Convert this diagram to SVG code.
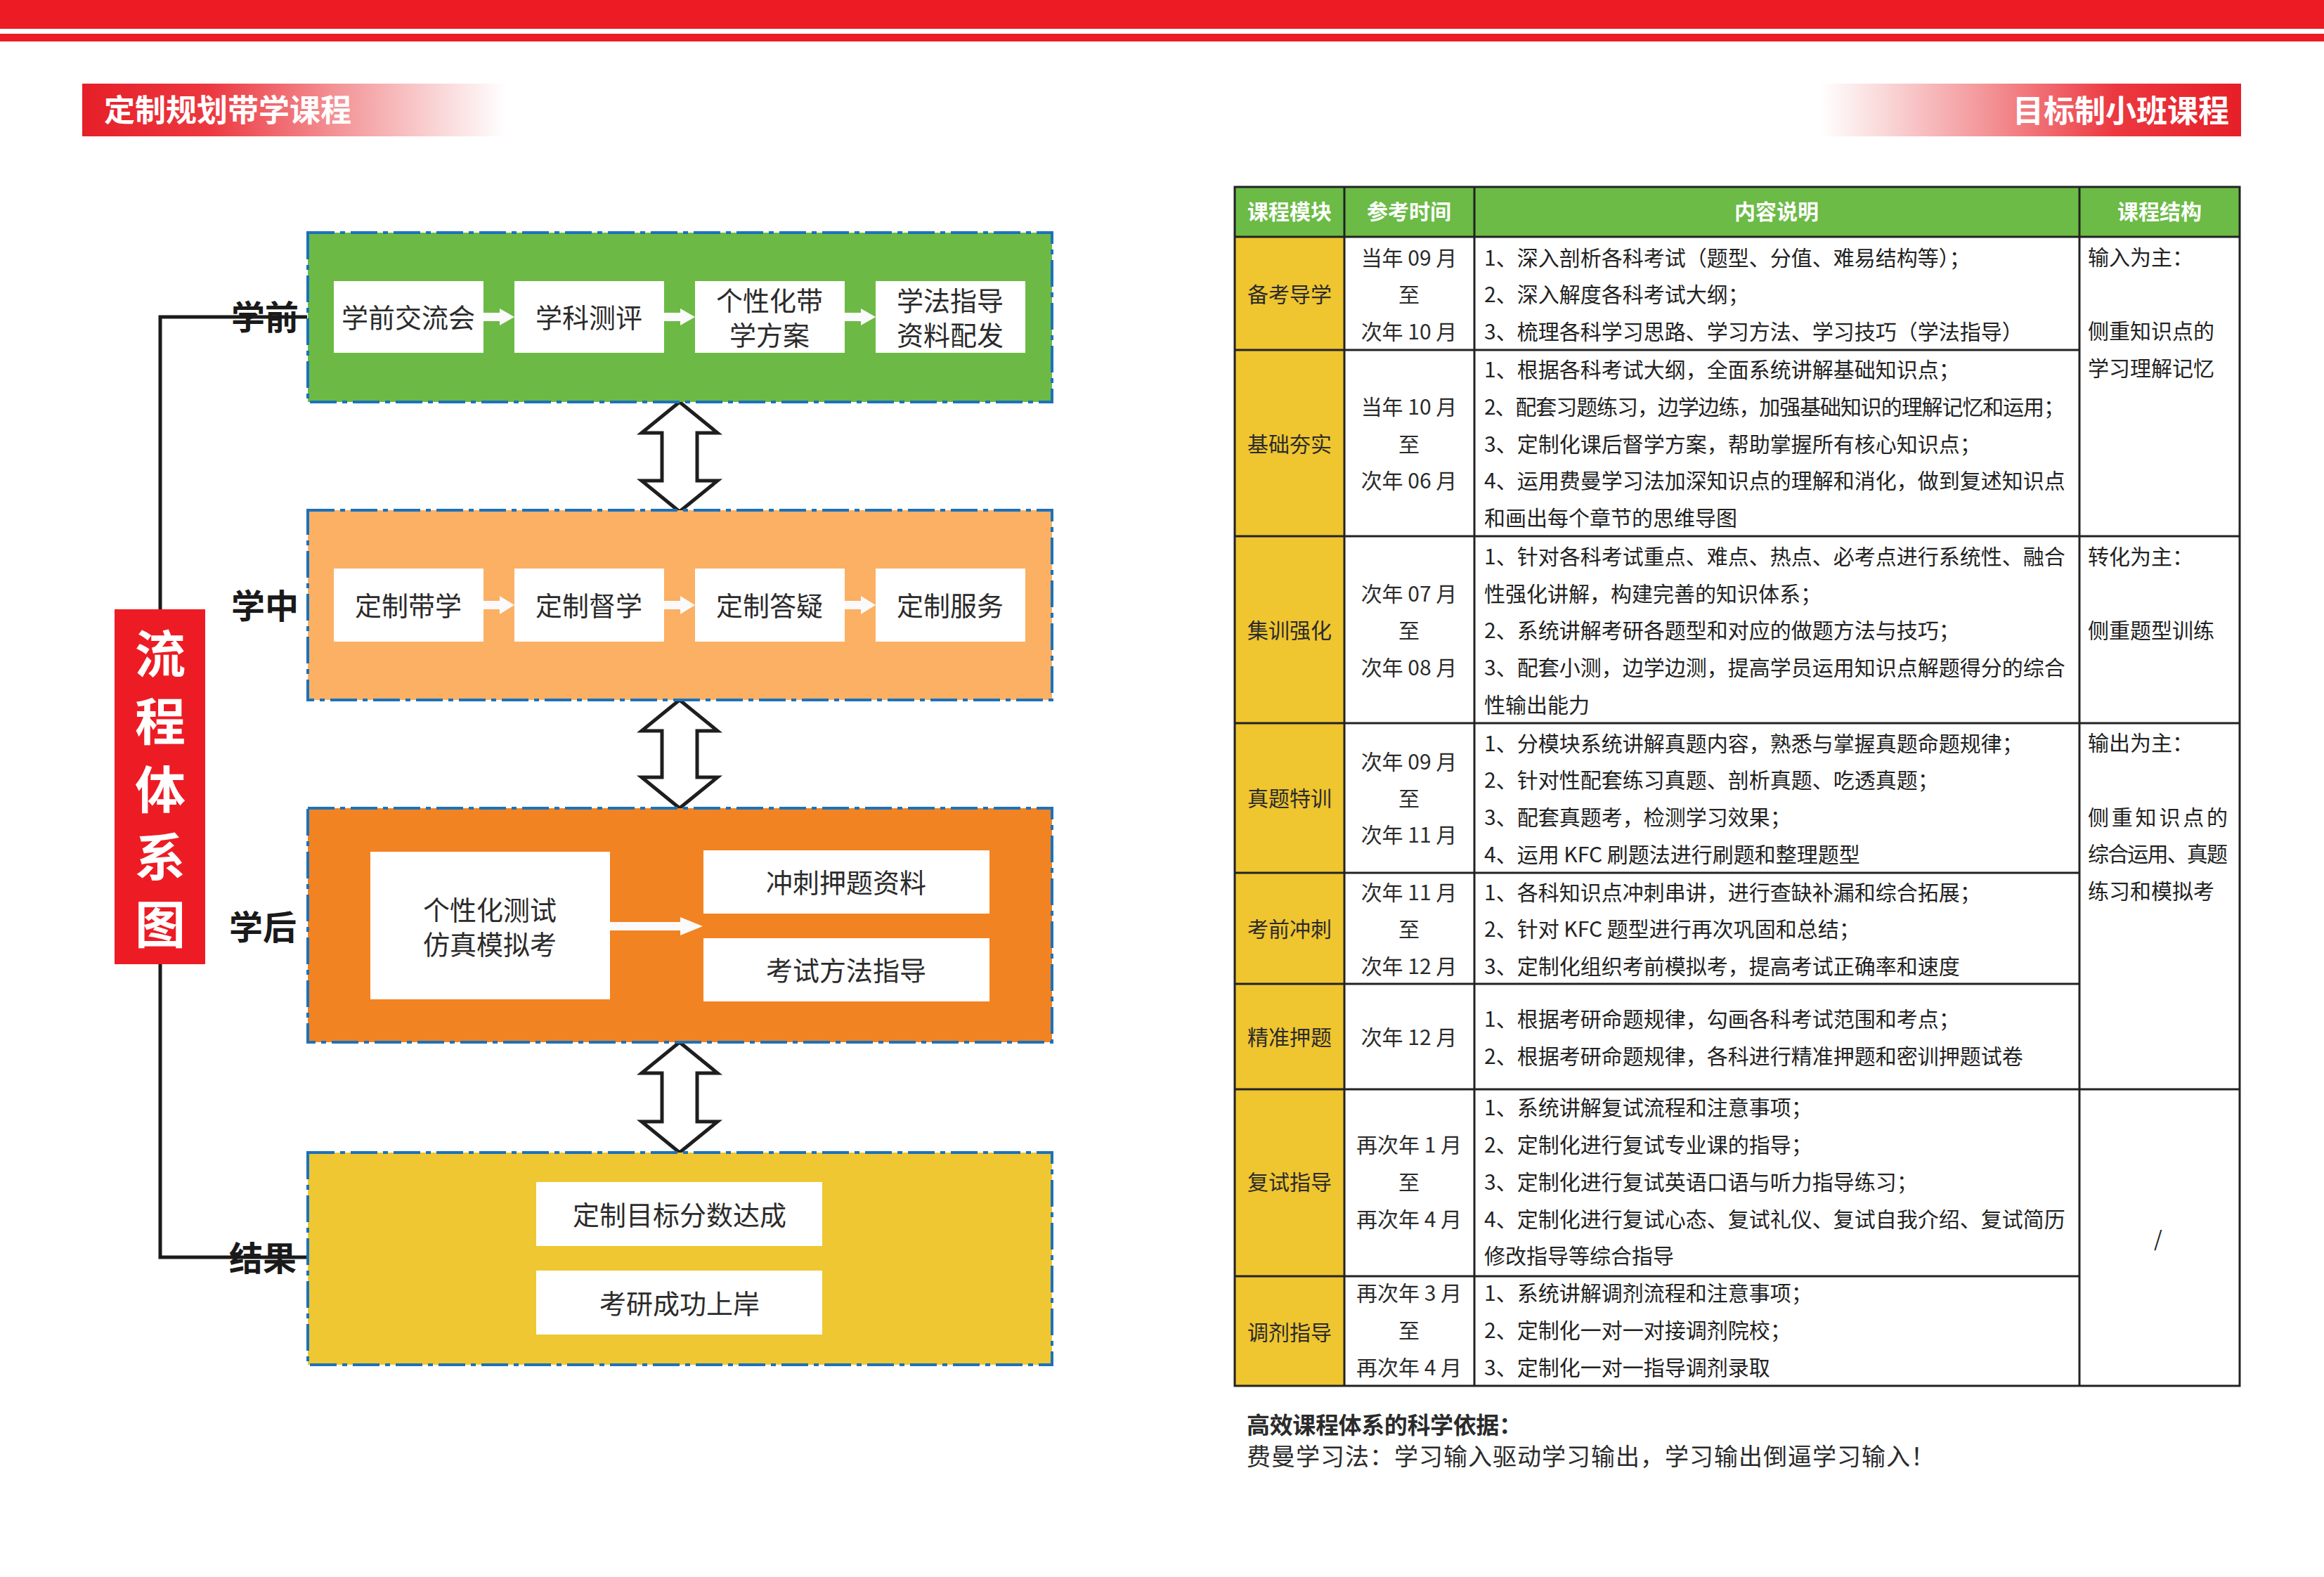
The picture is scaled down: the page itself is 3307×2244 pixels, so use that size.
<svg xmlns="http://www.w3.org/2000/svg" width="3307" height="2244" viewBox="0 0 3307 2244">
<defs>
<linearGradient id="gL" x1="0" y1="0" x2="1" y2="0">
<stop offset="0" stop-color="#E61F28"/>
<stop offset="0.3" stop-color="#EC3840"/>
<stop offset="0.6" stop-color="#F39396"/>
<stop offset="0.85" stop-color="#FAD8D9"/>
<stop offset="1" stop-color="#FFFFFF"/>
</linearGradient>
<linearGradient id="gR" x1="1" y1="0" x2="0" y2="0">
<stop offset="0" stop-color="#E61F28"/>
<stop offset="0.3" stop-color="#EC3840"/>
<stop offset="0.6" stop-color="#F39396"/>
<stop offset="0.85" stop-color="#FAD8D9"/>
<stop offset="1" stop-color="#FFFFFF"/>
</linearGradient>
<style>
text{font-family:"Noto Sans CJK SC","Noto Sans",sans-serif;dominant-baseline:central;transform:translateY(-3px);}
.banner{font-size:44px;font-weight:bold;fill:#FFFFFF;}
.stage{fill-opacity:1;stroke:#1C72BA;stroke-width:4;stroke-dasharray:38 8 7 8;}
.inner{fill:#FFFFFF;}
.bt{font-size:38px;fill:#2B2B2B;text-anchor:middle;}
.lbl{font-size:48px;font-weight:bold;fill:#1A1A1A;}
.vt{font-size:72px;font-weight:bold;fill:#FFFFFF;text-anchor:middle;}
.wa{fill:#FAFAFA;}
.dbl{fill:#FFFFFF;stroke:#1E1E1E;stroke-width:5;stroke-linejoin:miter;}
.th{font-size:30px;font-weight:bold;fill:#FFFFFF;text-anchor:middle;}
.tm{font-size:30px;fill:#2B2B2B;text-anchor:middle;}
.tc{font-size:30px;fill:#222222;}
.tl{stroke:#222222;stroke-width:3;fill:none;}
.conn{stroke:#1A1A1A;stroke-width:5;fill:none;}
</style>
</defs>
<rect x="0" y="0" width="3307" height="2244" fill="#FFFFFF"/>
<g id="topbars">
<rect x="0" y="0" width="3307" height="41" fill="#ED1C24"/>
<rect x="0" y="48" width="3307" height="11" fill="#ED1C24"/>
</g>
<g id="banner-left">
<rect x="117" y="119" width="603" height="75" fill="url(#gL)"/>
<text class="banner" x="148" y="157">定制规划带学课程</text>
</g>
<g id="banner-right">
<rect x="2590" y="119" width="599" height="75" fill="url(#gR)"/>
<text class="banner" x="3172" y="158" text-anchor="end">目标制小班课程</text>
</g>

<g id="connectors">
<path class="conn" d="M437 451 H228 V1789 H437"/>
<path class="dbl" d="M967 572 L1021 616 L992 616 L992 684 L1021 684 L967 728 L913 684 L942 684 L942 616 L913 616 Z"/>
<path class="dbl" d="M967 996 L1021 1040 L992 1040 L992 1106 L1021 1106 L967 1150 L913 1106 L942 1106 L942 1040 L913 1040 Z"/>
<path class="dbl" d="M967 1483 L1021 1527 L992 1527 L992 1596 L1021 1596 L967 1640 L913 1596 L942 1596 L942 1527 L913 1527 Z"/>
</g>

<g id="title-box">
<rect x="163" y="867" width="129" height="505" fill="#ED1C24"/>
<text class="vt" x="228" y="928">流</text>
<text class="vt" x="228" y="1024">程</text>
<text class="vt" x="228" y="1121">体</text>
<text class="vt" x="228" y="1217">系</text>
<text class="vt" x="228" y="1313">图</text>
</g>

<g id="labels">
<text class="lbl" x="329" y="451">学前</text>
<text class="lbl" x="329" y="862">学中</text>
<text class="lbl" x="326" y="1319">学后</text>
<text class="lbl" x="326" y="1790">结果</text>
</g>

<g id="stage-pre">
<rect class="stage" x="438" y="331" width="1059" height="241" fill="#6CBA45"/>
<path class="wa" d="M688 445 H711 V439 L732 451 L711 463 V457 H688 Z"/>
<path class="wa" d="M945 445 H968 V439 L989 451 L968 463 V457 H945 Z"/>
<path class="wa" d="M1202 445 H1225 V439 L1246 451 L1225 463 V457 H1202 Z"/>
<g id="n-jiaoliu"><rect class="inner" x="475" y="400" width="213" height="102"/><text class="bt" x="581" y="452">学前交流会</text></g>
<g id="n-ceping"><rect class="inner" x="732" y="400" width="213" height="102"/><text class="bt" x="838" y="452">学科测评</text></g>
<g id="n-fangan"><rect class="inner" x="989" y="400" width="213" height="102"/><text class="bt" x="1095" y="428">个性化带</text><text class="bt" x="1095" y="477">学方案</text></g>
<g id="n-ziliao"><rect class="inner" x="1246" y="400" width="213" height="102"/><text class="bt" x="1352" y="428">学法指导</text><text class="bt" x="1352" y="477">资料配发</text></g>
</g>

<g id="stage-mid">
<rect class="stage" x="438" y="726" width="1059" height="270" fill="#FBB064"/>
<path class="wa" d="M688 855 H711 V848 L732 861 L711 874 V867 H688 Z"/>
<path class="wa" d="M945 855 H968 V848 L989 861 L968 874 V867 H945 Z"/>
<path class="wa" d="M1202 855 H1225 V848 L1246 861 L1225 874 V867 H1202 Z"/>
<g id="n-daixue"><rect class="inner" x="475" y="809" width="213" height="104"/><text class="bt" x="581" y="862">定制带学</text></g>
<g id="n-duxue"><rect class="inner" x="732" y="809" width="213" height="104"/><text class="bt" x="838" y="862">定制督学</text></g>
<g id="n-dayi"><rect class="inner" x="989" y="809" width="213" height="104"/><text class="bt" x="1095" y="862">定制答疑</text></g>
<g id="n-fuwu"><rect class="inner" x="1246" y="809" width="213" height="104"/><text class="bt" x="1352" y="862">定制服务</text></g>
</g>

<g id="stage-post">
<rect class="stage" x="438" y="1150" width="1059" height="333" fill="#F28322"/>
<path class="wa" d="M868 1312 H968 V1305 L1000 1318 L968 1331 V1324 H868 Z"/>
<g id="n-moni"><rect class="inner" x="527" y="1212" width="341" height="210"/><text class="bt" x="697" y="1295">个性化测试</text><text class="bt" x="697" y="1344">仿真模拟考</text></g>
<g id="n-yati"><rect class="inner" x="1001" y="1210" width="407" height="90"/><text class="bt" x="1204" y="1256">冲刺押题资料</text></g>
<g id="n-fangfa"><rect class="inner" x="1001" y="1335" width="407" height="90"/><text class="bt" x="1204" y="1381">考试方法指导</text></g>
</g>

<g id="stage-result">
<rect class="stage" x="438" y="1640" width="1059" height="302" fill="#EEC733"/>
<g id="n-mubiao"><rect class="inner" x="763" y="1682" width="407" height="91"/><text class="bt" x="967" y="1729">定制目标分数达成</text></g>
<g id="n-shangan"><rect class="inner" x="763" y="1808" width="407" height="91"/><text class="bt" x="967" y="1855">考研成功上岸</text></g>
</g>

<g id="table">
<rect x="1757" y="266" width="1430" height="71" fill="#6BBB46"/>
<rect x="1757" y="337" width="156" height="1635" fill="#EFC530"/>
<rect class="tl" x="1757" y="266" width="1430" height="1706"/>
<path class="tl" d="M1913 266 V1972 M2098 266 V1972 M2959 266 V1972 M1757 337 H3187 M1757 498 H2959 M1757 763 H3187 M1757 1029 H3187 M1757 1242 H2959 M1757 1400 H2959 M1757 1550 H3187 M1757 1816 H2959"/>
<text class="th" x="1835" y="302">课程模块</text>
<text class="th" x="2005" y="302">参考时间</text>
<text class="th" x="2528" y="302">内容说明</text>
<text class="th" x="3073" y="302">课程结构</text>

<g id="row-beikao">
<text class="tm" x="1835" y="420">备考导学</text>
<text class="tm" x="2005" y="368">当年 09 月</text><text class="tm" x="2005" y="420">至</text><text class="tm" x="2005" y="473">次年 10 月</text>
<text class="tc" x="2112" y="368">1、深入剖析各科考试（题型、分值、难易结构等）；</text>
<text class="tc" x="2112" y="420">2、深入解度各科考试大纲；</text>
<text class="tc" x="2112" y="473">3、梳理各科学习思路、学习方法、学习技巧（学法指导）</text>
</g>
<g id="row-jichu">
<text class="tm" x="1835" y="633">基础夯实</text>
<text class="tm" x="2005" y="580">当年 10 月</text><text class="tm" x="2005" y="633">至</text><text class="tm" x="2005" y="685">次年 06 月</text>
<text class="tc" x="2112" y="527">1、根据各科考试大纲，全面系统讲解基础知识点；</text>
<text class="tc" x="2112" y="580" textLength="826" lengthAdjust="spacing">2、配套习题练习，边学边练，加强基础知识的理解记忆和运用；</text>
<text class="tc" x="2112" y="633">3、定制化课后督学方案，帮助掌握所有核心知识点；</text>
<text class="tc" x="2112" y="685">4、运用费曼学习法加深知识点的理解和消化，做到复述知识点</text>
<text class="tc" x="2112" y="738">和画出每个章节的思维导图</text>
</g>
<g id="row-jixun">
<text class="tm" x="1835" y="898">集训强化</text>
<text class="tm" x="2005" y="846">次年 07 月</text><text class="tm" x="2005" y="898">至</text><text class="tm" x="2005" y="951">次年 08 月</text>
<text class="tc" x="2112" y="793">1、针对各科考试重点、难点、热点、必考点进行系统性、融合</text>
<text class="tc" x="2112" y="846">性强化讲解，构建完善的知识体系；</text>
<text class="tc" x="2112" y="898">2、系统讲解考研各题型和对应的做题方法与技巧；</text>
<text class="tc" x="2112" y="951">3、配套小测，边学边测，提高学员运用知识点解题得分的综合</text>
<text class="tc" x="2112" y="1004">性输出能力</text>
</g>
<g id="row-zhenti">
<text class="tm" x="1835" y="1137">真题特训</text>
<text class="tm" x="2005" y="1085">次年 09 月</text><text class="tm" x="2005" y="1137">至</text><text class="tm" x="2005" y="1189">次年 11 月</text>
<text class="tc" x="2112" y="1059">1、分模块系统讲解真题内容，熟悉与掌握真题命题规律；</text>
<text class="tc" x="2112" y="1111">2、针对性配套练习真题、剖析真题、吃透真题；</text>
<text class="tc" x="2112" y="1164">3、配套真题考，检测学习效果；</text>
<text class="tc" x="2112" y="1217">4、运用 KFC 刷题法进行刷题和整理题型</text>
</g>
<g id="row-chongci">
<text class="tm" x="1835" y="1323">考前冲刺</text>
<text class="tm" x="2005" y="1271">次年 11 月</text><text class="tm" x="2005" y="1323">至</text><text class="tm" x="2005" y="1376">次年 12 月</text>
<text class="tc" x="2112" y="1271">1、各科知识点冲刺串讲，进行查缺补漏和综合拓展；</text>
<text class="tc" x="2112" y="1323">2、针对 KFC 题型进行再次巩固和总结；</text>
<text class="tc" x="2112" y="1376">3、定制化组织考前模拟考，提高考试正确率和速度</text>
</g>
<g id="row-yati">
<text class="tm" x="1835" y="1477">精准押题</text>
<text class="tm" x="2005" y="1477">次年 12 月</text>
<text class="tc" x="2112" y="1451">1、根据考研命题规律，勾画各科考试范围和考点；</text>
<text class="tc" x="2112" y="1504">2、根据考研命题规律，各科进行精准押题和密训押题试卷</text>
</g>
<g id="row-fushi">
<text class="tm" x="1835" y="1683">复试指导</text>
<text class="tm" x="2005" y="1630">再次年 1 月</text><text class="tm" x="2005" y="1683">至</text><text class="tm" x="2005" y="1736">再次年 4 月</text>
<text class="tc" x="2112" y="1577">1、系统讲解复试流程和注意事项；</text>
<text class="tc" x="2112" y="1630">2、定制化进行复试专业课的指导；</text>
<text class="tc" x="2112" y="1683">3、定制化进行复试英语口语与听力指导练习；</text>
<text class="tc" x="2112" y="1736">4、定制化进行复试心态、复试礼仪、复试自我介绍、复试简历</text>
<text class="tc" x="2112" y="1788">修改指导等综合指导</text>
</g>
<g id="row-tiaoji">
<text class="tm" x="1835" y="1897">调剂指导</text>
<text class="tm" x="2005" y="1841">再次年 3 月</text><text class="tm" x="2005" y="1894">至</text><text class="tm" x="2005" y="1947">再次年 4 月</text>
<text class="tc" x="2112" y="1841">1、系统讲解调剂流程和注意事项；</text>
<text class="tc" x="2112" y="1894">2、定制化一对一对接调剂院校；</text>
<text class="tc" x="2112" y="1947">3、定制化一对一指导调剂录取</text>
</g>
<g id="structure">
<text class="tc" x="2971" y="367">输入为主：</text>
<text class="tc" x="2971" y="472">侧重知识点的</text>
<text class="tc" x="2971" y="525">学习理解记忆</text>
<text class="tc" x="2971" y="793">转化为主：</text>
<text class="tc" x="2971" y="898">侧重题型训练</text>
<text class="tc" x="2971" y="1058">输出为主：</text>
<text class="tc" x="2971" y="1164" textLength="199" lengthAdjust="spacing">侧重知识点的</text>
<text class="tc" x="2971" y="1216" textLength="199" lengthAdjust="spacing">综合运用、真题</text>
<text class="tc" x="2971" y="1269">练习和模拟考</text>
<text class="tc" x="3071" y="1764" text-anchor="middle">/</text>
</g>
</g>

<g id="footnote">
<text x="1774" y="2029" font-size="33" font-weight="bold" fill="#2B2B2B" textLength="392" lengthAdjust="spacing">高效课程体系的科学依据：</text>
<text x="1774" y="2073" font-size="34" fill="#2B2B2B" textLength="979" lengthAdjust="spacing">费曼学习法：学习输入驱动学习输出，学习输出倒逼学习输入！</text>
</g>
</svg>
